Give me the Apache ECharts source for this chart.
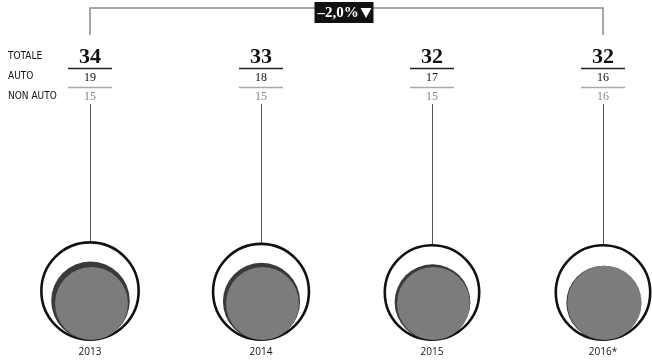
<!DOCTYPE html>
<html>
<head>
<meta charset="utf-8">
<script src="https://cdn.jsdelivr.net/npm/echarts@6/dist/echarts.min.js"></script>
<style>
  html, body { margin: 0; padding: 0; background: #fff; }
  #chart { width: 652px; height: 364px; }
</style>
</head>
<body>
<div id="chart"></div>
<script>
// Yearly totals, split into car and non-car
const years = ['2013', '2014', '2015', '2016*'];
const totale = [34, 33, 32, 32];
const auto = [19, 18, 17, 16];
const nonAuto = [15, 15, 15, 16];
const rowLabels = ['TOTALE', 'AUTO', 'NON AUTO'];
const changeLabel = '\u20132,0%';

// circle diameter in pixels for a value
function diameter(v) { return 1.42 * v + 51.6; }

const serif = '"Liberation Serif", "DejaVu Serif", serif';
const narrow = '"Liberation Sans Narrow", "DejaVu Sans Condensed", "Roboto", sans-serif';

const chart = echarts.init(document.getElementById('chart'), null, { renderer: 'canvas' });

const columnData = years.map((y, i) => [i, 0, totale[i], auto[i], nonAuto[i]]);

chart.setOption({
  animation: false,
  backgroundColor: '#fff',
  grid: { left: 90, right: 49, top: 10, bottom: 23 },
  xAxis: { type: 'category', data: years, boundaryGap: false, show: false },
  yAxis: { type: 'value', min: 0, max: 1, show: false },
  graphic: rowLabels.map((t, i) => ({
    type: 'text', left: 8, top: 51 + i * 20,
    style: { text: t, font: '10px ' + narrow, fill: '#111' }
  })),
  series: [
    {
      // bracket joining first and last year
      type: 'custom',
      silent: true,
      data: [[0, 0, years.length - 1]],
      renderItem(params, api) {
        const a = api.coord([api.value(0), 0]);
        const b = api.coord([api.value(2), 0]);
        const yTop = 8, yEnd = 35;
        const mid = (a[0] + b[0]) / 2;
        const stroke = { stroke: '#8a8a8a', lineWidth: 1.5, fill: null };
        return {
          type: 'group',
          children: [
            { type: 'polyline', shape: { points: [[a[0], yEnd], [a[0], yTop], [b[0], yTop], [b[0], yEnd]] }, style: stroke },
            { type: 'rect', shape: { x: mid - 32, y: 2, width: 59, height: 21 }, style: { fill: '#111' } },
            { type: 'text', x: mid - 29, y: 13, style: { text: changeLabel, font: 'bold 15px ' + serif, fill: '#fff', align: 'left', verticalAlign: 'middle' } },
            { type: 'polygon', shape: { points: [[mid + 14, 8], [mid + 25, 8], [mid + 19.5, 18]] }, style: { fill: '#fff' } }
          ]
        };
      }
    },
    {
      type: 'custom',
      silent: true,
      data: columnData,
      renderItem(params, api) {
        const base = api.coord([api.value(0), 0]);
        const x = base[0], yb = base[1];
        const tot = api.value(2), au = api.value(3), na = api.value(4);
        const dOuter = diameter(tot), dAuto = diameter(au), dNon = diameter(na);
        const outerTop = yb - dOuter;
        return {
          type: 'group',
          children: [
            { type: 'text', x: x, y: 57, style: { text: String(tot), font: 'bold 22px ' + serif, fill: '#111', align: 'center', verticalAlign: 'middle' } },
            { type: 'line', shape: { x1: x - 22, y1: 68.5, x2: x + 22, y2: 68.5 }, style: { stroke: '#222', lineWidth: 1.5 } },
            { type: 'text', x: x, y: 78, style: { text: String(au), font: '12px ' + serif, fill: '#111', align: 'center', verticalAlign: 'middle' } },
            { type: 'line', shape: { x1: x - 22, y1: 87.5, x2: x + 22, y2: 87.5 }, style: { stroke: '#a8a8a8', lineWidth: 1.5 } },
            { type: 'text', x: x, y: 97, style: { text: String(na), font: '12px ' + serif, fill: '#888', align: 'center', verticalAlign: 'middle' } },
            { type: 'line', shape: { x1: x + 0.5, y1: 104, x2: x + 0.5, y2: outerTop + 1 }, style: { stroke: '#555', lineWidth: 1 } },
            { type: 'circle', shape: { cx: x, cy: yb - dOuter / 2, r: dOuter / 2 - 1.3 }, style: { fill: '#fff', stroke: '#111', lineWidth: 2.6 } },
            { type: 'circle', shape: { cx: x + 0.5, cy: yb - 1 - dAuto / 2, r: dAuto / 2 }, style: { fill: '#3a3a3a' } },
            { type: 'circle', shape: { cx: x + 1.5, cy: yb - 1 - dNon / 2, r: dNon / 2 }, style: { fill: '#7c7c7c' } },
            { type: 'text', x: x, y: 352, style: { text: years[api.value(0)], font: '10px "Open Sans", "Noto Sans", sans-serif', fill: '#111', align: 'center', verticalAlign: 'middle' } }
          ]
        };
      }
    }
  ]
});
</script>
</body>
</html>
